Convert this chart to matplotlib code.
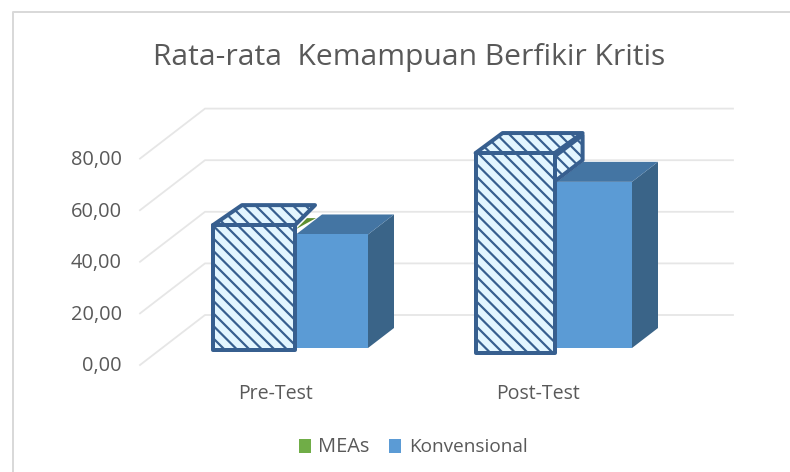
import matplotlib
matplotlib.use("Agg")
import matplotlib.pyplot as plt
from matplotlib.patches import Polygon, Rectangle

categories = ["Pre-Test", "Post-Test"]
meas = [48.4, 77.5]
konvensional = [44.0, 64.4]
yticks = [0, 20, 40, 60, 80]
yticklabels = ["0,00", "20,00", "40,00", "60,00", "80,00"]
series_names = ["MEAs", "Konvensional"]
title = "Rata-rata  Kemampuan Berfikir Kritis"

W, H, DPI = 790, 472, 150
PX = 72 / DPI
plt.rcParams["font.family"] = ["Open Sans", "DejaVu Sans"]
plt.rcParams["hatch.linewidth"] = 2.2 * PX
plt.rcParams["hatch.color"] = "#5a74a6"
TXT = "#595959"
LINE = "#375f8f"
GRID = "#e6e6e6"
FACE = "#e3f6ff"
FRONT = "#5b9bd5"; TOP = "#4475a3"; SIDE = "#3a6488"; GREEN = "#70ad47"
HATCH = "\\\\\\\\"

fig = plt.figure(figsize=(W / DPI, H / DPI), dpi=DPI)
ax = fig.add_axes([0, 0, 1, 1])
XS = 263.0   # px per category
YS = 2.58    # px per unit
X0, Y0 = 275.0, 365.0
ax.set_xlim(-X0 / XS, (W - X0) / XS)
ax.set_ylim(-(H - Y0) / YS, Y0 / YS)
ax.axis("off")

def dx(px): return px / XS
def dy(px): return px / YS

# chart frame: only the left and top edges are inside the picture
ax.plot([dx(13 - X0), dx(13 - X0), dx(W + 5 - X0)],
        [dy(Y0 - H - 5), dy(Y0 - 12), dy(Y0 - 12)], color="#d9d9d9", lw=2 * PX, zorder=0)

# depth of the floor
DX_D, DY_D = 65, 50
x_front = dx(140 - X0)
x_back = dx(205 - X0)
x_end = dx(733 - X0)
for v in yticks:
    ax.plot([x_front, x_back, x_end], [v, v + dy(DY_D), v + dy(DY_D)],
            color=GRID, lw=1.8 * PX, zorder=1, solid_joinstyle="round")
for v, s in zip(yticks, yticklabels):
    ax.text(dx(122 - X0), v - dy(1.5), s, ha="right", va="center", fontsize=20 * PX, color=TXT)

# Konvensional solid 3D bars
kon_left = [-1, -3]
kon_width = [72, 75]
for i, v in enumerate(konvensional):
    x0 = i + dx(kon_left[i])
    w = dx(kon_width[i])
    base = dy(17)
    sx, sy = dx(22), base
    bx, by = dx(26), dy(20)
    ax.add_patch(Polygon([(x0 + sx + w, sy + v), (x0 + sx + w + bx, sy + v + by),
                          (x0 + sx + w + bx, sy + by), (x0 + sx + w, sy)],
                         fc=SIDE, ec="none", zorder=3))
    ax.add_patch(Polygon([(x0 + sx, sy + v), (x0 + sx + bx, sy + v + by),
                          (x0 + sx + w + bx, sy + v + by), (x0 + sx + w, sy + v)],
                         fc=TOP, ec="none", zorder=3))
    ax.bar(x0 + sx, v, w, bottom=sy, align="edge", color=FRONT, zorder=4)

# MEAs hatched bars
depths = [15, 12]      # floor shift (px up)
shifts = [19.5, 15.6]  # floor shift (px right)
rights = [0.5, 1.0]
widths = [82, 79]
tops = [(29, 20, 20), (27, 28, 20)]
for i, v in enumerate(meas):
    w = dx(widths[i])
    x0 = i + dx(rights[i] + shifts[i]) - w
    base = dy(depths[i])
    ltop, rtop, up = tops[i]
    if i == 0:
        ax.add_patch(Polygon([(x0 + w + dx(1), base + v - dy(4)),
                              (x0 + w + dx(12), base + v + dy(7)),
                              (x0 + w + dx(21), base + v + dy(7))],
                             fc="#5f8f30", ec="none", zorder=5))
    else:
        ax.add_patch(Polygon([(x0 + w - dx(2), base + v - dy(5)),
                              (x0 + w + dx(rtop), base + v + dy(18)),
                              (x0 + w + dx(rtop), base + v - dy(7)),
                              (x0 + w - dx(2), base + v - dy(30))],
                             fc=FACE, ec=LINE, lw=4 * PX, hatch=HATCH, zorder=6,
                             joinstyle="round"))
    ax.add_patch(Polygon([(x0, base + v), (x0 + dx(ltop), base + v + dy(up)),
                          (x0 + w + dx(rtop), base + v + dy(up)), (x0 + w, base + v)],
                         fc=FACE, ec=LINE, lw=4 * PX, hatch=HATCH, zorder=6,
                         joinstyle="round"))
    ax.bar(x0, v, w, bottom=base, align="edge", color=FACE, edgecolor=LINE,
           linewidth=4 * PX, hatch=HATCH, zorder=7, joinstyle="round")

for i, c in enumerate(categories):
    ax.text(i, dy(Y0 - 394), c, ha="center", va="center", fontsize=19.5 * PX, color=TXT)

ax.text(dx(409 - X0), dy(Y0 - 57), title, ha="center", va="center",
        fontsize=30 * PX, color=TXT)

# legend
sizes = [20, 19]
for px_sq, px_txt, col, name, fs in zip([299, 389], [318, 409], [GREEN, FRONT], series_names, sizes):
    ax.add_patch(Rectangle((dx(px_sq - X0), dy(Y0 - 453)), dx(12), dy(14), fc=col, ec="none"))
    ax.text(dx(px_txt - X0), dy(Y0 - 447), name, ha="left", va="center",
            fontsize=fs * PX, color=TXT)

fig.savefig("out.png", dpi=DPI, facecolor="white")
